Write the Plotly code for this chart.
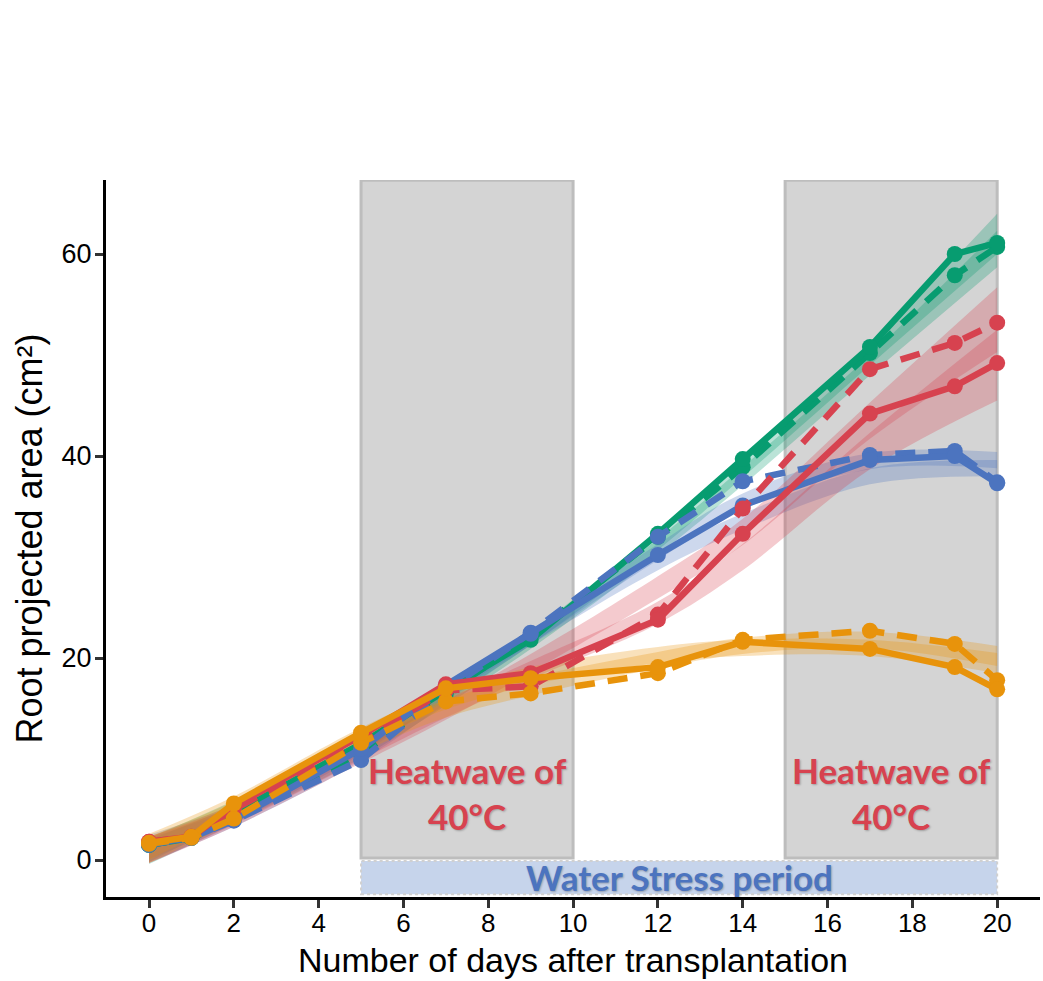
import plotly.graph_objects as go

# Sampling days
DAYS = [0, 1, 2, 5, 7, 9, 12, 14, 17, 19, 20]

# Mean root projected area (cm²) per treatment
GREEN_SOLID = [1.5, 2.2, 4.6, 11.5, 16.8, 21.8, 32.3, 39.7, 50.8, 60.0, 61.1]
GREEN_DASHED = [1.5, 2.2, 4.2, 10.5, 16.5, 22.2, 32.0, 38.9, 50.2, 57.9, 60.7]
BLUE_SOLID = [1.6, 2.2, 4.0, 11.0, 17.3, 22.4, 30.2, 35.1, 39.6, 40.0, 37.3]
BLUE_DASHED = [1.5, 2.2, 3.9, 9.9, 16.8, 22.5, 32.0, 37.5, 40.1, 40.5, 37.4]
RED_SOLID = [1.8, 2.3, 5.3, 12.3, 17.4, 18.5, 23.8, 32.3, 44.2, 46.9, 49.2]
RED_DASHED = [1.8, 2.3, 5.0, 11.8, 16.8, 17.2, 24.3, 34.8, 48.6, 51.2, 53.2]
ORANGE_SOLID = [1.7, 2.3, 5.6, 12.6, 17.0, 18.0, 19.1, 21.6, 20.9, 19.1, 16.9]
ORANGE_DASHED = [1.6, 2.2, 4.1, 11.6, 15.7, 16.5, 18.5, 21.8, 22.7, 21.4, 17.8]

# Smoothed trend and its standard error band
FIT_DAYS = [0, 2, 5, 7, 9, 12, 14, 17, 20]
GREEN_SOLID_FIT = [1.0, 5.0, 11.5, 16.5, 22.0, 31.5, 38.8, 50.0, 62.0]
GREEN_SOLID_SE = [1.2, 0.9, 0.7, 0.7, 0.7, 0.8, 0.9, 1.0, 2.0]
GREEN_DASHED_FIT = [0.8, 4.5, 10.8, 16.0, 21.6, 31.0, 38.0, 49.0, 60.5]
GREEN_DASHED_SE = [1.2, 0.9, 0.7, 0.7, 0.7, 0.8, 0.9, 1.0, 1.8]
BLUE_SOLID_FIT = [1.3, 4.6, 11.2, 16.8, 22.0, 29.5, 33.5, 38.0, 38.8]
BLUE_SOLID_SE = [1.2, 0.9, 0.7, 0.7, 0.7, 0.8, 0.8, 0.8, 0.8]
BLUE_DASHED_FIT = [1.0, 4.2, 10.5, 16.2, 22.0, 30.5, 35.5, 39.5, 39.6]
BLUE_DASHED_SE = [1.2, 0.9, 0.7, 0.7, 0.7, 0.8, 0.8, 0.8, 0.8]
RED_SOLID_FIT = [1.0, 4.5, 10.8, 15.0, 18.8, 24.5, 30.0, 40.5, 49.0]
RED_SOLID_SE = [1.3, 1.0, 0.9, 0.9, 0.9, 1.1, 1.3, 1.8, 3.5]
RED_DASHED_FIT = [1.0, 4.3, 10.5, 14.8, 19.5, 27.0, 32.5, 43.5, 53.5]
RED_DASHED_SE = [1.3, 1.0, 0.9, 0.9, 0.9, 1.1, 1.3, 1.8, 3.2]
ORANGE_SOLID_FIT = [1.3, 5.3, 12.2, 15.8, 18.2, 20.3, 21.0, 21.0, 19.5]
ORANGE_SOLID_SE = [1.3, 1.0, 0.9, 0.9, 0.9, 0.8, 0.8, 0.8, 1.0]
ORANGE_DASHED_FIT = [1.0, 4.8, 11.5, 15.0, 17.2, 19.8, 21.2, 21.8, 20.2]
ORANGE_DASHED_SE = [1.3, 1.0, 0.9, 0.9, 0.9, 0.8, 0.8, 0.8, 1.0]

# Treatment periods (days)
HEATWAVES = [(5, 10), (15, 20)]
WATER_STRESS = (5, 20)

X_TICKS = list(range(0, 21, 2))
Y_TICKS = [0, 20, 40, 60]

GREEN = "#079c70"
BLUE = "#4c74bf"
RED = "#d7424f"
ORANGE = "#e8930b"
DASH = "20px,13px"


def rgba(hex_color, alpha):
    h = hex_color.lstrip("#")
    r, g, b = int(h[0:2], 16), int(h[2:4], 16), int(h[4:6], 16)
    return f"rgba({r},{g},{b},{alpha})"


fig = go.Figure()

bands = [
    (GREEN_SOLID_FIT, GREEN_SOLID_SE, GREEN),
    (GREEN_DASHED_FIT, GREEN_DASHED_SE, GREEN),
    (BLUE_SOLID_FIT, BLUE_SOLID_SE, BLUE),
    (BLUE_DASHED_FIT, BLUE_DASHED_SE, BLUE),
    (RED_SOLID_FIT, RED_SOLID_SE, RED),
    (RED_DASHED_FIT, RED_DASHED_SE, RED),
    (ORANGE_SOLID_FIT, ORANGE_SOLID_SE, ORANGE),
    (ORANGE_DASHED_FIT, ORANGE_DASHED_SE, ORANGE),
]
for fit, se, col in bands:
    lower = [f - s for f, s in zip(fit, se)]
    upper = [f + s for f, s in zip(fit, se)]
    fig.add_trace(go.Scatter(x=FIT_DAYS, y=lower, mode="lines",
                             line=dict(width=0, shape="spline", color=col),
                             hoverinfo="skip", showlegend=False))
    fig.add_trace(go.Scatter(x=FIT_DAYS, y=upper, mode="lines",
                             line=dict(width=0, shape="spline", color=col),
                             fill="tonexty", fillcolor=rgba(col, 0.28),
                             hoverinfo="skip", showlegend=False))

series = [
    (GREEN_DASHED, GREEN, DASH),
    (GREEN_SOLID, GREEN, "solid"),
    (BLUE_DASHED, BLUE, DASH),
    (BLUE_SOLID, BLUE, "solid"),
    (RED_DASHED, RED, DASH),
    (RED_SOLID, RED, "solid"),
    (ORANGE_DASHED, ORANGE, DASH),
    (ORANGE_SOLID, ORANGE, "solid"),
]
for vals, col, dash in series:
    fig.add_trace(go.Scatter(
        x=DAYS, y=vals, mode="lines+markers",
        line=dict(color=col, width=6.5, dash=dash),
        marker=dict(color=col, size=16),
        showlegend=False,
    ))

label_font = dict(family="Lato", size=35, weight="bold",
                  shadow="1px 1px 2px rgba(0,0,0,0.25)")

# Heatwave windows
for x0, x1 in HEATWAVES:
    fig.add_shape(type="rect", xref="x", yref="y", x0=x0, x1=x1, y0=0.2, y1=67.3,
                  fillcolor="#d4d4d4", line=dict(color="#bdbdbd", width=3),
                  layer="below")
    fig.add_annotation(x=(x0 + x1) / 2, y=6.6, xref="x", yref="y",
                       text="Heatwave of<br>40°C", showarrow=False,
                       font=dict(label_font, color=RED))

# Water stress strip
fig.add_shape(type="rect", xref="x", yref="y", x0=WATER_STRESS[0], x1=WATER_STRESS[1],
              y0=-3.4, y1=-0.1, fillcolor="#c6d4eb",
              line=dict(color="#d0d0d0", width=2, dash="dot"), layer="below")
fig.add_annotation(x=sum(WATER_STRESS) / 2, y=-1.7, xref="x", yref="y",
                   text="Water Stress period", showarrow=False,
                   font=dict(label_font, color=BLUE))

tick_font = dict(family="Liberation Sans, Arial", size=26, color="black")
title_font = dict(family="Liberation Sans, Arial", size=35, color="black")

# x-axis title, placed just under the tick labels
fig.add_annotation(x=0.5, y=-0.0885, xref="paper", yref="paper",
                   text="Number of days after transplantation", showarrow=False,
                   xanchor="center", yanchor="middle", borderpad=0,
                   font=dict(title_font, size=34))

fig.update_layout(
    width=1043, height=981,
    margin=dict(l=106, r=3, t=180, b=84),
    plot_bgcolor="white", paper_bgcolor="white",
    showlegend=False,
    xaxis=dict(range=[-1.014, 21.01], tickvals=X_TICKS, showgrid=False, zeroline=False,
               showline=True, linecolor="black", linewidth=3,
               ticks="outside", ticklen=8, tickwidth=3, tickcolor="#333333",
               tickfont=tick_font, ticklabelstandoff=-7),
    yaxis=dict(range=[-3.66, 67.33], tickvals=Y_TICKS, showgrid=False, zeroline=False,
               showline=True, linecolor="black", linewidth=3,
               ticks="outside", ticklen=8, tickwidth=3, tickcolor="#333333",
               tickfont=dict(tick_font, size=27), ticklabelstandoff=-2,
               title=dict(text="Root projected area (cm²)", font=dict(title_font, size=36),
                          standoff=8)),
)

fig.write_html("out.html")
